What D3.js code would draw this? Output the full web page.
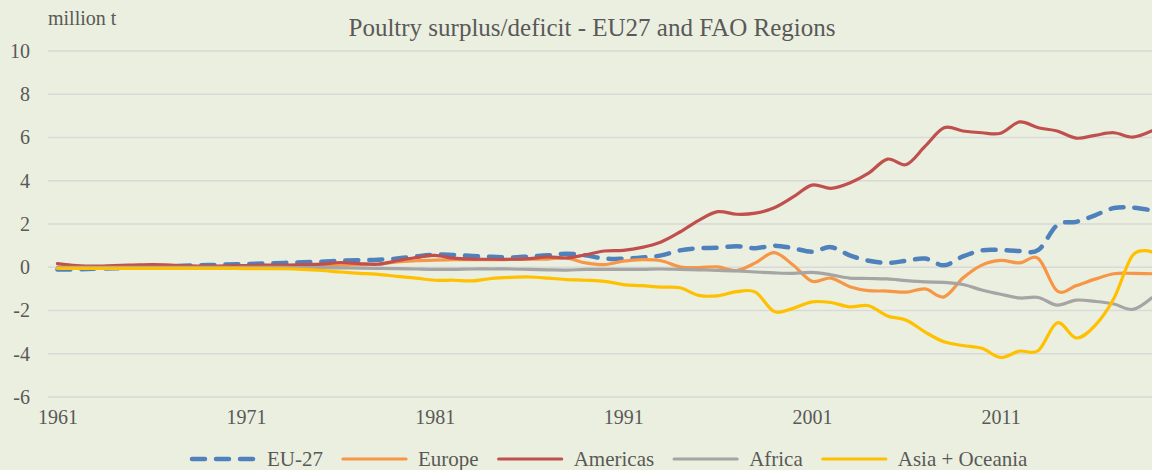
<!DOCTYPE html>
<html>
<head>
<meta charset="utf-8">
<script src="https://cdn.jsdelivr.net/npm/d3@7"></script>
<style>
  body { margin: 0; background: #ebefdf; }
  svg { display: block; }
  svg text { font-family: "Times New Roman", "Liberation Serif", Tinos, "DejaVu Serif", serif !important; fill: #595959; }
</style>
</head>
<body>
<svg id="chart" width="1152" height="470"></svg>
<script>
// years on the category axis
const years = d3.range(1961, 2020);
const yTicks = [-6, -4, -2, 0, 2, 4, 6, 8, 10];
const xTickLabels = [1961, 1971, 1981, 1991, 2001, 2011];

// million t
const eu27 = [-0.1, -0.1, -0.07, -0.05, -0.02, 0, 0.05, 0.08, 0.1, 0.13, 0.15, 0.18, 0.2, 0.23, 0.25, 0.3, 0.33, 0.35, 0.4, 0.5,
  0.58, 0.57, 0.52, 0.48, 0.45, 0.5, 0.55, 0.62, 0.55, 0.4, 0.4, 0.45, 0.55, 0.78, 0.88, 0.9, 0.97, 0.88, 1.0, 0.88,
  0.72, 0.93, 0.55, 0.3, 0.2, 0.3, 0.4, 0.09, 0.5, 0.78, 0.8, 0.75, 0.8, 1.95, 2.1, 2.4, 2.74, 2.76, 2.63];
const europe = [0, 0.01, 0.02, 0.02, 0.02, 0.02, 0.02, 0.02, 0.02, 0.02, 0.03, 0.03, 0.03, 0.04, 0.05, 0.1, 0.12, 0.15, 0.25, 0.3,
  0.33, 0.35, 0.35, 0.35, 0.36, 0.37, 0.38, 0.42, 0.2, 0.12, 0.28, 0.35, 0.3, 0.02, -0.02, 0.02, -0.15, 0.2, 0.68, 0.1,
  -0.65, -0.5, -0.9, -1.08, -1.1, -1.15, -1.0, -1.37, -0.5, 0.1, 0.32, 0.2, 0.4, -1.1, -0.85, -0.55, -0.3, -0.28, -0.3];
const americas = [0.17, 0.08, 0.05, 0.08, 0.1, 0.12, 0.1, 0.06, 0.05, 0.06, 0.08, 0.1, 0.1, 0.12, 0.14, 0.22, 0.17, 0.14, 0.3, 0.45,
  0.55, 0.42, 0.38, 0.37, 0.37, 0.4, 0.48, 0.43, 0.58, 0.75, 0.78, 0.92, 1.17, 1.63, 2.17, 2.57, 2.45, 2.5, 2.75, 3.25,
  3.8, 3.65, 3.9, 4.35, 5.0, 4.75, 5.6, 6.45, 6.3, 6.22, 6.2, 6.72, 6.45, 6.3, 5.97, 6.1, 6.22, 6.02, 6.3];
const africa = [0, 0, 0, 0, 0, 0, 0, 0, 0, -0.01, -0.01, -0.01, -0.01, -0.02, -0.02, -0.03, -0.04, -0.05, -0.06, -0.08,
  -0.1, -0.1, -0.08, -0.08, -0.08, -0.1, -0.12, -0.13, -0.1, -0.1, -0.1, -0.1, -0.08, -0.1, -0.12, -0.14, -0.17, -0.22, -0.26, -0.28,
  -0.24, -0.35, -0.5, -0.52, -0.54, -0.62, -0.68, -0.7, -0.8, -1.05, -1.25, -1.42, -1.4, -1.75, -1.52, -1.58, -1.7, -1.95, -1.42];
const asiaOceania = [-0.05, -0.05, -0.05, -0.05, -0.05, -0.05, -0.05, -0.05, -0.05, -0.05, -0.06, -0.06, -0.07, -0.1, -0.15, -0.22, -0.28, -0.33, -0.42, -0.5,
  -0.6, -0.6, -0.63, -0.52, -0.47, -0.45, -0.5, -0.57, -0.6, -0.65, -0.8, -0.85, -0.92, -0.95, -1.3, -1.32, -1.13, -1.15, -2.05, -1.9,
  -1.6, -1.63, -1.83, -1.78, -2.25, -2.45, -3.0, -3.45, -3.62, -3.75, -4.17, -3.88, -3.85, -2.57, -3.27, -2.7, -1.45, 0.55, 0.71];

const seriesNames = ["EU-27", "Europe", "Americas", "Africa", "Asia + Oceania"];
const seriesValues = [eu27, europe, americas, africa, asiaOceania];
const seriesColors = ["#4f81bd", "#f79646", "#c0504d", "#a5a5a5", "#ffc000"];

const serif = '"Times New Roman", "Liberation Serif", Tinos, "DejaVu Serif", serif';
const svg = d3.select("#chart").attr("font-family", serif);

const x = d3.scalePoint(years, [48, 1161]).padding(0.5);
const y = d3.scaleLinear([-6, 10], [397, 51]);

// gridlines
svg.append("g")
  .selectAll("line")
  .data(yTicks)
  .join("line")
  .attr("x1", 48)
  .attr("x2", 1161)
  .attr("y1", d => y(d))
  .attr("y2", d => y(d))
  .attr("stroke", "#d9d9d9")
  .attr("stroke-width", 1.5);

// y axis labels (plain hyphen like the original, not d3's minus sign)
const yAxis = g => g
  .attr("transform", "translate(38,0)")
  .call(d3.axisLeft(y).tickValues(yTicks).tickFormat(d => String(d)).tickSize(0).tickPadding(8))
  .attr("font-family", serif)
  .attr("font-size", 20)
  .call(g => g.select(".domain").remove())
  .call(g => g.selectAll("text").attr("fill", "#595959"));

// x axis labels
const xAxis = g => g
  .attr("transform", "translate(0,410)")
  .call(d3.axisBottom(x).tickValues(xTickLabels).tickSize(0).tickPadding(0))
  .attr("font-family", serif)
  .attr("font-size", 20)
  .call(g => g.select(".domain").remove())
  .call(g => g.selectAll("text").attr("dy", "0.71em").attr("fill", "#595959"));

svg.append("g").call(yAxis);
svg.append("g").call(xAxis);

svg.append("text")
  .attr("x", 48)
  .attr("y", 25)
  .attr("font-size", 20)
  .text("million t");

svg.append("text")
  .attr("x", 592)
  .attr("y", 36)
  .attr("text-anchor", "middle")
  .attr("font-size", 25)
  .text("Poultry surplus/deficit - EU27 and FAO Regions");

// lines
const line = d3.line()
  .curve(d3.curveCatmullRom.alpha(0))
  .x((d, i) => x(years[i]))
  .y(d => y(d));

seriesValues.forEach((vals, k) => {
  svg.append("path")
    .attr("d", line(vals))
    .attr("fill", "none")
    .attr("stroke", seriesColors[k])
    .attr("stroke-width", k === 0 ? 4.5 : 3.2)
    .attr("stroke-linecap", "round")
    .attr("stroke-linejoin", "round")
    .attr("stroke-dasharray", k === 0 ? "13,11" : null);
});

// legend
let lx = 190;
const ly = 459;
seriesNames.forEach((name, k) => {
  svg.append("line")
    .attr("x1", lx + 2)
    .attr("x2", lx + 65)
    .attr("y1", ly)
    .attr("y2", ly)
    .attr("stroke", seriesColors[k])
    .attr("stroke-width", k === 0 ? 4.5 : 3.2)
    .attr("stroke-linecap", "round")
    .attr("stroke-dasharray", k === 0 ? "13,11" : null);
  const t = svg.append("text")
    .attr("x", lx + 77)
    .attr("y", ly + 7)
    .attr("font-size", 21)
    .text(name);
  lx = lx + 77 + t.node().getComputedTextLength() + 18;
});
</script>
</body>
</html>
